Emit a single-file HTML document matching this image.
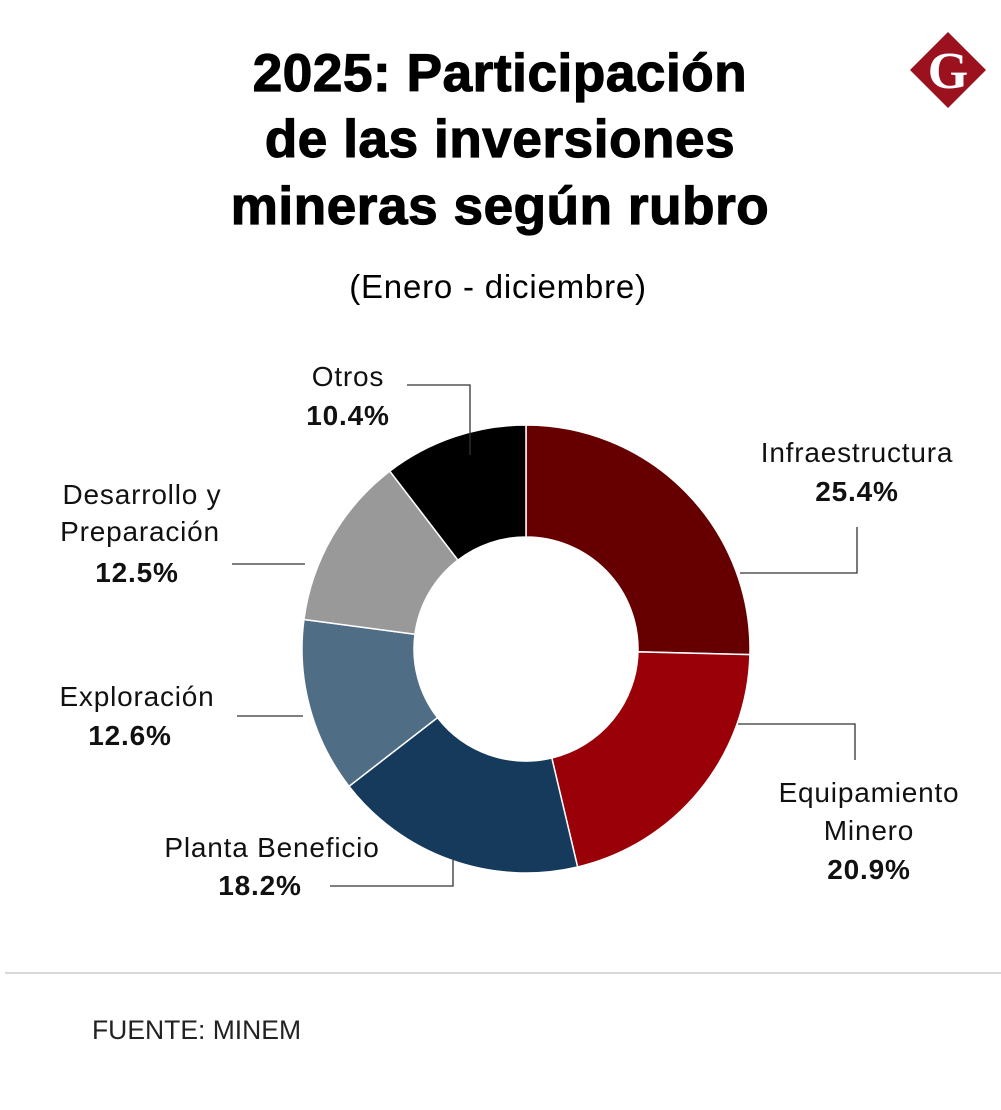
<!DOCTYPE html>
<html><head><meta charset="utf-8"><style>
body{margin:0;background:#fff;width:1001px;height:1105px;overflow:hidden;font-family:"Liberation Sans",sans-serif;}
</style></head><body>
<svg width="1001" height="1105" viewBox="0 0 1001 1105" xmlns="http://www.w3.org/2000/svg">
<g font-weight="bold" font-size="53" letter-spacing="0.6" text-anchor="middle" fill="#000" stroke="#000" stroke-width="1.2">
<text x="500" y="91">2025: Participación</text>
<text x="500" y="157">de las inversiones</text>
<text x="500" y="224">mineras según rubro</text>
</g>
<text x="498" y="298" text-anchor="middle" font-size="33" letter-spacing="0.8">(Enero - diciembre)</text>
<g>
<polygon points="948,32 986,70 948,108 910,70" fill="#9b111e"/>
<text x="948" y="88" text-anchor="middle" font-family="Liberation Serif,serif" font-weight="bold" font-size="52" fill="#fff">G</text>
</g>
<g id="donut"></g>
<g id="labels" font-size="28" letter-spacing="0.8" fill="#111"></g>
<line x1="5" y1="973" x2="1001" y2="973" stroke="#ccc" stroke-width="1.5"/>
<text x="92" y="1039" font-size="26.5" fill="#222">FUENTE: MINEM</text>
</svg>
<script>
const categories=["Infraestructura","Equipamiento Minero","Planta Beneficio","Exploración","Desarrollo y Preparación","Otros"];
const values=[25.4,20.9,18.2,12.6,12.5,10.4];
const valueLabels=["25.4%","20.9%","18.2%","12.6%","12.5%","10.4%"];
const colors=["#660000","#990008","#163a5c","#506d86","#999999","#000000"];
const NS="http://www.w3.org/2000/svg";
const cx=526,cy=649,R=224,r=112;
const total=values.reduce((a,b)=>a+b,0);
const g=document.getElementById('donut');
function pt(a,rad){return [cx+rad*Math.sin(a),cy-rad*Math.cos(a)];}
let acc=0;
values.forEach((v,i)=>{
 const a0=acc/total*2*Math.PI;acc+=v;const a1=acc/total*2*Math.PI;
 const lg=(a1-a0)>Math.PI?1:0;
 const p0=pt(a0,R),p1=pt(a1,R),q1=pt(a1,r),q0=pt(a0,r);
 const p=document.createElementNS(NS,'path');
 p.setAttribute('d',`M${p0} A${R},${R} 0 ${lg} 1 ${p1} L${q1} A${r},${r} 0 ${lg} 0 ${q0} Z`);
 p.setAttribute('fill',colors[i]);p.setAttribute('stroke','#fff');p.setAttribute('stroke-width','1.5');
 
 
 g.appendChild(p);
});
const L=document.getElementById('labels');
function line(pts){const e=document.createElementNS(NS,'polyline');e.setAttribute('points',pts);e.setAttribute('fill','none');e.setAttribute('stroke','#333');e.setAttribute('stroke-width','1.3');
 
 
 L.appendChild(e);}
function txt(x,y,s,b){const e=document.createElementNS(NS,'text');e.setAttribute('x',x);e.setAttribute('y',y);e.setAttribute('text-anchor','middle');if(b)e.setAttribute('font-weight','bold');e.textContent=s;
 
 
 L.appendChild(e);}
line("740,573 857,573 857,527");
txt(857,462,"Infraestructura");txt(857,501,valueLabels[0],true);
line("738,724 855,724 855,760");
txt(869,802,"Equipamiento");txt(869,840,"Minero");txt(869,879,valueLabels[1],true);
line("453,860 453,886 330,886");
txt(272,857,"Planta Beneficio");txt(260,895,valueLabels[2],true);
line("303,716 237,716");
txt(137,706,"Exploración");txt(130,745,valueLabels[3],true);
line("305,564 232,564");
txt(142,504,"Desarrollo y");txt(140,541,"Preparación");txt(137,582,valueLabels[4],true);
line("470,455 470,385 407,385");
txt(348,386,"Otros");txt(348,425,valueLabels[5],true);
</script>
</body></html>
